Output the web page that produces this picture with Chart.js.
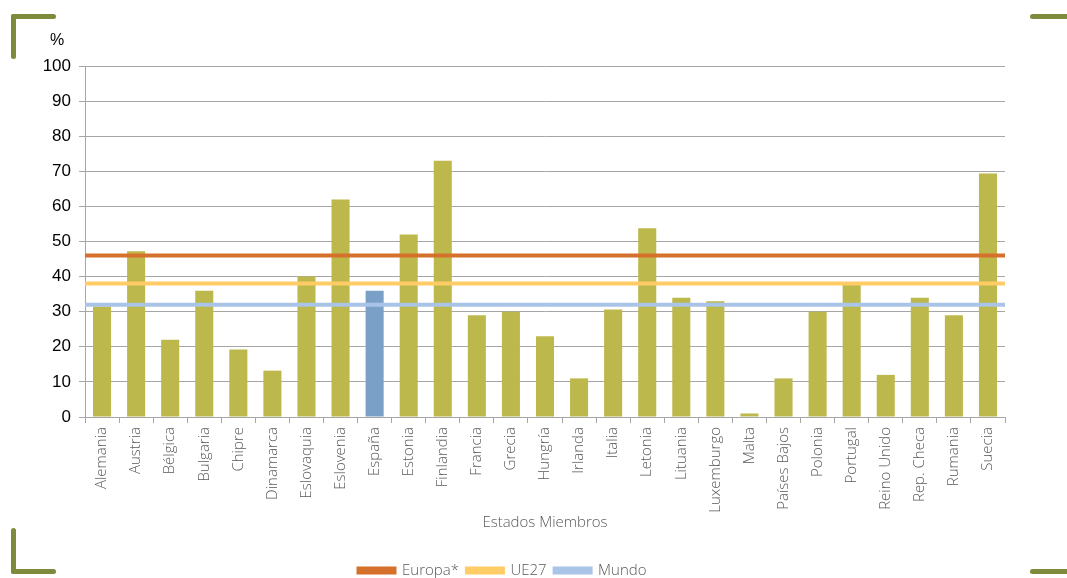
<!DOCTYPE html>
<html>
<head>
<meta charset="utf-8">
<script src="https://cdn.jsdelivr.net/npm/chart.js@4"></script>
<style>
  html, body { margin: 0; padding: 0; background: #fff; }
  #wrap { position: relative; width: 1067px; height: 578px; overflow: hidden; }
  .corner { position: absolute; background: #7f8a3c; border-radius: 3px; }
  #pct { position: absolute; left: 50px; top: 31px; font: 16px "Liberation Sans", Arial, sans-serif; color: #000; }
</style>
</head>
<body>
<div id="wrap">
  <canvas id="graph" width="1067" height="578"></canvas>
  <div id="pct">%</div>
  <div class="corner" style="left:11px;top:14px;width:45px;height:5px"></div>
  <div class="corner" style="left:11px;top:14px;width:5px;height:45px"></div>
  <div class="corner" style="left:1030px;top:14px;width:45px;height:5px"></div>
  <div class="corner" style="left:11px;top:528px;width:5px;height:46px"></div>
  <div class="corner" style="left:11px;top:569px;width:45px;height:5px"></div>
  <div class="corner" style="left:1030px;top:569px;width:45px;height:5px"></div>
</div>
<script>
'use strict';

const countries = ['Alemania', 'Austria', 'Bélgica', 'Bulgaria', 'Chipre', 'Dinamarca', 'Eslovaquia',
    'Eslovenia', 'España', 'Estonia', 'Finlandia', 'Francia', 'Grecia', 'Hungría', 'Irlanda', 'Italia',
    'Letonia', 'Lituania', 'Luxemburgo', 'Malta', 'Países Bajos', 'Polonia', 'Portugal', 'Reino Unido',
    'Rep. Checa', 'Rumania', 'Suecia'];
const shares = [31.5, 47.2, 22, 36, 19.2, 13.2, 40, 62, 36, 52, 73, 29, 30, 23, 11, 30.6,
    53.8, 34, 33, 1, 11, 30, 37.6, 12, 34, 29, 69.4];
const europa = 46;
const ue27 = 38;
const mundo = 32;

const olive = '#bdb84c';
const spain = '#7aa0c8';
const thinFont = { family: '"Open Sans", "DejaVu Sans", sans-serif', weight: 300 };

function flat(v) {
    return [{ x: 0, y: v }, { x: 1, y: v }];
}

const ctx = document.getElementById('graph').getContext('2d');
new Chart(ctx, {
    type: 'bar',
    data: {
        labels: countries,
        datasets: [
            {
                type: 'line', label: 'Europa*', data: flat(europa), xAxisID: 'x2',
                borderColor: '#d5712b', backgroundColor: '#d5712b', borderWidth: 4, pointRadius: 0, order: 1
            },
            {
                type: 'line', label: 'UE27', data: flat(ue27), xAxisID: 'x2',
                borderColor: '#ffcc66', backgroundColor: '#ffcc66', borderWidth: 4, pointRadius: 0, order: 2
            },
            {
                type: 'line', label: 'Mundo', data: flat(mundo), xAxisID: 'x2',
                borderColor: '#a9c4e6', backgroundColor: '#a9c4e6', borderWidth: 4, pointRadius: 0, order: 3
            },
            {
                type: 'bar', label: 'Estados', data: shares, xAxisID: 'x',
                backgroundColor: countries.map(c => c === 'España' ? spain : olive),
                grouped: false,
                barPercentage: 0.53, categoryPercentage: 1, order: 4
            }
        ]
    },
    options: {
        responsive: false,
        animation: false,
        layout: { padding: { left: 0, right: 62, top: 66, bottom: -10 } },
        plugins: {
            tooltip: { enabled: false },
            legend: {
                position: 'bottom',
                labels: {
                    filter: item => item.text !== 'Estados',
                    boxWidth: 36, boxHeight: 4, padding: 8,
                    color: '#595959',
                    font: { ...thinFont, size: 15 }
                }
            }
        },
        scales: {
            x: {
                type: 'category',
                offset: true,
                grid: { offset: true, drawOnChartArea: false, color: '#a6a6a6', tickLength: 6 },
                border: { color: '#a6a6a6' },
                ticks: {
                    minRotation: 90, maxRotation: 90, autoSkip: false, padding: 4,
                    color: '#595959', font: { ...thinFont, size: 15 }
                },
                title: {
                    display: true, text: 'Estados Miembros', color: '#595959',
                    font: { ...thinFont, size: 15 }, padding: { top: 0, bottom: 23 }
                },
                afterFit: scale => { scale.height = 138; }
            },
            x2: { type: 'linear', min: 0, max: 1, offset: false, display: false },
            y: {
                min: 0, max: 100,
                ticks: { stepSize: 10, color: '#000', padding: 8, font: { family: '"Liberation Sans", Arial, sans-serif', size: 17 } },
                grid: { color: '#a6a6a6', tickLength: 6 },
                border: { color: '#a6a6a6' },
                afterFit: scale => { scale.width = 85; }
            }
        }
    }
});
</script>
</body>
</html>
